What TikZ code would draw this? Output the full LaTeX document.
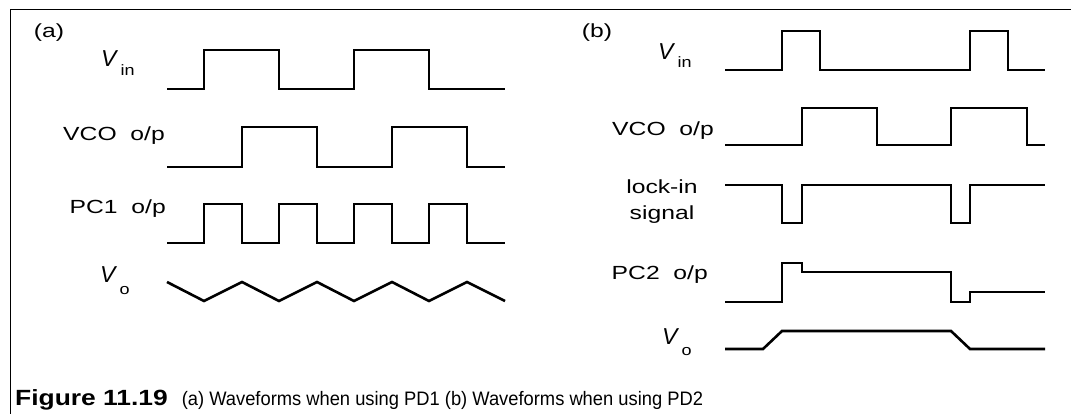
\documentclass[tikz,border=0pt]{standalone}
\usepackage{fontspec}
\setmainfont{Liberation Sans}
\newcommand{\lblfont}{\fontsize{19}{22}\selectfont}
\newcommand{\wide}[1]{\scalebox{1.3}[1]{#1}}
\newcommand{\vsym}[2]{{\fontsize{23}{25}\selectfont\itshape V}\hspace{4pt}\raisebox{-#2}{\scalebox{1.2}[1]{\fontsize{15}{16}\selectfont #1}}}
\begin{document}
\begin{tikzpicture}[x=1pt,y=-1pt,
  wave/.style={line width=2.6pt,line join=miter},
  frame/.style={line width=1pt},
  lbl/.style={font=\lblfont,inner sep=0pt,anchor=east},
  lblc/.style={font=\lblfont,inner sep=0pt,align=center},
  vlbl/.style={inner sep=0pt,anchor=base west},
  captext/.style={inner sep=0pt,anchor=base west}]
\useasboundingbox (0,0) rectangle (1071,414);
% frame (top and left edges)
\draw[frame] (10.5,414) -- (10.5,9.5) -- (1071,9.5);
% ---------- panel (a) ----------
\node[lblc] (pa) at (49,33) {\wide{(a)}};
\node[vlbl] (vina) at (101,67) {\vsym{in}{9pt}};
\node[lbl] (vcoa) at (165,136) {\wide{VCO\ \ o/p}};
\node[lbl] (pc1a) at (166,209) {\wide{PC1\ \ o/p}};
\node[vlbl] (voa) at (100,282) {\vsym{o}{13pt}};
% Vin (a)
\draw[wave] (167,89) -- (204,89) -- (204,50) -- (279,50) -- (279,89) -- (354,89) -- (354,50) -- (429,50) -- (429,89) -- (505,89);
% VCO (a)
\draw[wave] (167,167) -- (242,167) -- (242,127) -- (317,127) -- (317,167) -- (392,167) -- (392,127) -- (467,127) -- (467,167) -- (505,167);
% PC1 (a)
\draw[wave] (167,243) -- (204,243) -- (204,204) -- (242,204) -- (242,243) -- (279,243) -- (279,204) -- (317,204) -- (317,243)
  -- (354,243) -- (354,204) -- (392,204) -- (392,243) -- (429,243) -- (429,204) -- (467,204) -- (467,243) -- (505,243);
% Vo (a)
\draw[wave] (167,282) -- (204,301) -- (242,282) -- (279,301) -- (317,282) -- (354,301) -- (392,282) -- (429,301) -- (467,282) -- (505,301);
% ---------- panel (b) ----------
\node[lblc] (pb) at (597,33) {\wide{(b)}};
\node[vlbl] (vinb) at (658,60) {\vsym{in}{8pt}};
\node[lbl] (vcob) at (714,131) {\wide{VCO\ \ o/p}};
\node[lblc,anchor=north] (lockb) at (662,180) {\wide{lock-in}\\[4pt]\wide{signal}};
\node[lbl] (pc2b) at (708,275) {\wide{PC2\ \ o/p}};
\node[vlbl] (vob) at (662,344) {\vsym{o}{11pt}};
% Vin (b)
\draw[wave] (725,70) -- (782,70) -- (782,31) -- (820,31) -- (820,70) -- (970,70) -- (970,31) -- (1008,31) -- (1008,70) -- (1045,70);
% VCO (b)
\draw[wave] (725,145) -- (802,145) -- (802,108) -- (877,108) -- (877,145) -- (951,145) -- (951,108) -- (1027,108) -- (1027,145) -- (1045,145);
% lock-in (b)
\draw[wave] (725,185) -- (782,185) -- (782,223) -- (802,223) -- (802,185) -- (951,185) -- (951,223) -- (970,223) -- (970,185) -- (1045,185);
% PC2 (b)
\draw[wave] (725,302) -- (782,302) -- (782,263) -- (802,263) -- (802,272) -- (951,272) -- (951,302) -- (970,302) -- (970,292) -- (1045,292);
% Vo (b)
\draw[wave] (725,349) -- (763,349) -- (782,331) -- (951,331) -- (970,349) -- (1045,349);
% ---------- caption ----------
\node[captext] (caption) at (15,405) {\scalebox{1.2}[1]{\fontsize{22}{24}\selectfont\textbf{Figure 11.19}}\hspace{14pt}\scalebox{0.94}[1]{\fontsize{19.5}{22}\selectfont(a) Waveforms when using PD1 (b) Waveforms when using PD2}};
\end{tikzpicture}
\end{document}
